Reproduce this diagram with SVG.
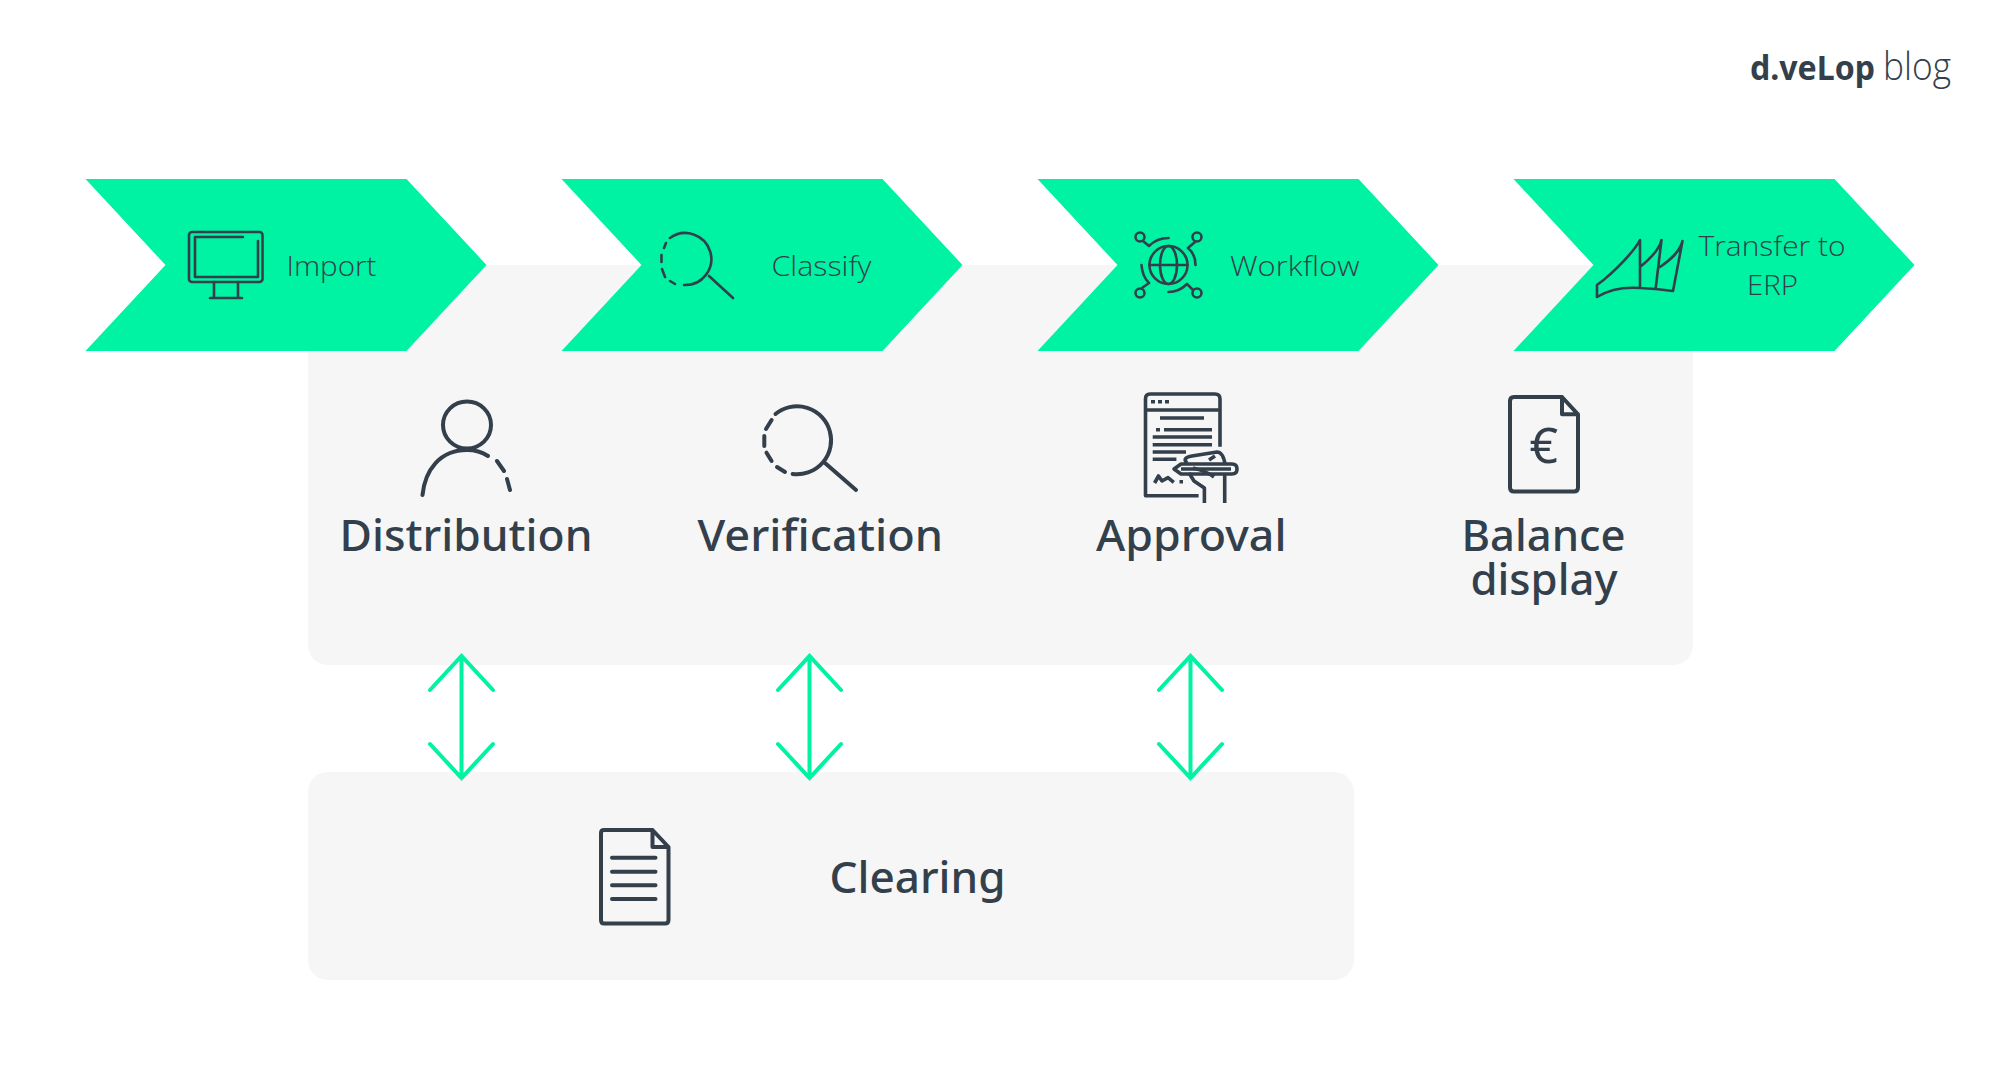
<svg xmlns="http://www.w3.org/2000/svg" width="2000" height="1069" viewBox="0 0 2000 1069">
<style>
.panel{fill:#f6f6f6}
.chev{fill:#00f2a3}
.ic{fill:none;stroke:#333f4b;stroke-linecap:round;stroke-linejoin:round;stroke-width:2.6}
.ic2{fill:none;stroke:#333f4b;stroke-linecap:round;stroke-linejoin:round;stroke-width:4}
.ic3{fill:none;stroke:#333f4b;stroke-linecap:butt;stroke-linejoin:round;stroke-width:3.600}
.lt{font-family:"Open Sans","Noto Sans",sans-serif;font-weight:300;font-size:28px;fill:#333f4b}
.md{font-family:"Noto Sans","Open Sans",sans-serif;font-weight:500;font-size:43px;fill:#333f4b}
.arr{fill:none;stroke:#00f2a3;stroke-width:4;stroke-linecap:round;stroke-linejoin:miter}
</style>
<rect width="2000" height="1069" fill="#ffffff"/>
<g id="panel-top"><rect class="panel" x="308" y="265" width="1385" height="400" rx="20"/></g>
<g id="panel-clearing-bg"><rect class="panel" x="308" y="772" width="1046" height="208" rx="20"/></g>

<g id="logo">
<text x="1750" y="80" textLength="125" lengthAdjust="spacingAndGlyphs" style="font-family:'Noto Sans',sans-serif;font-weight:700;font-size:34px;fill:#333f4b">d.veLop</text>
<text x="1883" y="80" textLength="68" lengthAdjust="spacingAndGlyphs" style="font-family:'Open Sans',sans-serif;font-weight:300;font-size:38px;fill:#333f4b">blog</text>
</g>

<g id="import">
<polygon class="chev" points="85.500,179 406.500,179 486.500,265 406.500,351 85.500,351 165.500,265"/>
<rect class="ic" x="189" y="232" width="73.500" height="50" rx="3"/>
<path class="ic" d="M243 237H195V277H258V241"/>
<path class="ic" d="M214 282V298M238 282V298M210 298H242"/>
<text class="lt" x="286.500" y="276" textLength="90" lengthAdjust="spacingAndGlyphs">Import</text>
</g>
<g id="classify">
<polygon class="chev" points="561.500,179 882.500,179 962.500,265 882.500,351 561.500,351 641.500,265"/>
<path class="ic" d="M670 238A26 26 0 1 1 684 285"/>
<path class="ic" d="M666 243L664 248M661.500 255V262M662 269L665 277M670 281L675 284"/>
<path class="ic" d="M709 276L733 298"/>
<text class="lt" x="771.500" y="276" textLength="100" lengthAdjust="spacingAndGlyphs">Classify</text>
</g>
<g id="workflow">
<polygon class="chev" points="1037.500,179 1358.500,179 1438.500,265 1358.500,351 1037.500,351 1117.500,265"/>
<ellipse class="ic" cx="1168.500" cy="265" rx="19" ry="19"/>
<ellipse class="ic" cx="1168.500" cy="265" rx="8.500" ry="19"/>
<path class="ic" d="M1149.500 265H1187.500"/>
<circle class="ic" cx="1140" cy="237" r="4.500"/>
<circle class="ic" cx="1197" cy="237" r="4.500"/>
<circle class="ic" cx="1140" cy="293" r="4.500"/>
<circle class="ic" cx="1197" cy="293" r="4.500"/>
<path class="ic" d="M1143 241L1149 246C1154 241 1161 238 1168.500 238M1195 242L1188 248C1193 252 1195.500 258 1195.500 265M1141.500 265C1142 272 1144 278 1149 283L1142 288M1168.500 292C1175 292 1182 289 1187 284L1193 290"/>
<text class="lt" x="1230" y="276" textLength="129.500" lengthAdjust="spacingAndGlyphs">Workflow</text>
</g>
<g id="transfer">
<polygon class="chev" points="1513.500,179 1834.500,179 1914.500,265 1834.500,351 1513.500,351 1593.500,265"/>
<path class="ic" d="M1597 297V285C1615 272 1635 250 1640 240V288C1626 287 1610 289 1597 297M1640 288L1655.600 289L1661.500 240C1659 250 1650 259 1640 267M1655.600 289L1673 291L1682.500 241C1680 252 1670 260 1660 267"/>
<text class="lt" x="1698.500" y="256" textLength="147" lengthAdjust="spacingAndGlyphs">Transfer to</text>
<text class="lt" x="1747" y="295" textLength="51" lengthAdjust="spacingAndGlyphs">ERP</text>
</g>

<g id="distribution">
<ellipse class="ic2" cx="467" cy="425" rx="24" ry="23.500"/>
<path class="ic2" d="M422.500 495C425 470 440 450 467 450C475 450 482 452 488 456M497 461L504 471M507 479L510 490"/>
<text class="md" x="339.500" y="551" textLength="253" lengthAdjust="spacingAndGlyphs">Distribution</text>
</g>
<g id="verification">
<path class="ic2" d="M775.500 414A34 34 0 1 1 792.600 474"/>
<path class="ic2" d="M785 472L777 467M771.600 461L766.500 452.700M764.300 446V436M766 429L771.600 420"/>
<path class="ic2" d="M825 463L856 490"/>
<text class="md" x="697.500" y="551" textLength="245.500" lengthAdjust="spacingAndGlyphs">Verification</text>
</g>
<g id="approval">
<path class="ic3" d="M1198.600 495.700H1145.500V399Q1145.500 394 1150 394H1215Q1220 394 1220 399V446.700M1145.500 410H1220"/>
<path class="ic3" d="M1151 401.700H1155M1158 401.700H1162M1165 401.700H1169M1160 418H1204M1156 429.700H1160M1164 429.700H1212M1152.700 437H1212M1152.700 444.700H1212M1152.700 452H1186M1152.700 459.300H1176.400"/>
<path class="ic3" d="M1174 469L1181 464H1232Q1237 464 1237 469Q1237 474 1232 474H1181ZM1181 469H1231"/>
<path class="ic3" d="M1187 463C1183 459 1186 457 1192 456L1217 452C1222 452 1224 458 1225 464M1224.700 474V503M1204.400 503V488L1194 481L1189 473M1193 468C1201 470 1208 472 1214 477M1209 460L1215 456"/>
<path class="ic3" d="M1154.600 483L1158.500 476L1162 481L1168 477.700L1173.800 482.300M1179.500 481.700H1183"/>
<text class="md" x="1096" y="551" textLength="190.500" lengthAdjust="spacingAndGlyphs">Approval</text>
</g>
<g id="balance">
<path class="ic2" d="M1562 397H1514Q1510 397 1510 401V487.500Q1510 491.500 1514 491.500H1574Q1578 491.500 1578 487.500V414.300L1562 397V414.300H1578"/>
<text x="1529.500" y="463" style="font-family:'Noto Sans',sans-serif;font-size:50px;fill:#333f4b">€</text>
<text class="md" x="1461.500" y="551" textLength="164" lengthAdjust="spacingAndGlyphs">Balance</text>
<text class="md" x="1470.500" y="595" textLength="147" lengthAdjust="spacingAndGlyphs">display</text>
</g>
<g id="clearing">
<path class="ic2" d="M652.500 830H604Q601 830 601 833V920Q601 923.500 604 923.500H665Q668.500 923.500 668.500 920V847L652.500 830V847H668.500"/>
<path class="ic2" d="M612 857.700H655.500M612 871.700H655.500M612 885.300H655.500M612 899H655.500"/>
<text class="md" x="829.500" y="893" textLength="176" lengthAdjust="spacingAndGlyphs">Clearing</text>
</g>

<g id="connectors">
<path class="arr" d="M461.500 656V778M430 690L461.500 656L493 690M430 744L461.500 778L493 744"/>
<path class="arr" d="M809.500 656V778M778 690L809.500 656L841 690M778 744L809.500 778L841 744"/>
<path class="arr" d="M1190.500 656V778M1159 690L1190.500 656L1222 690M1159 744L1190.500 778L1222 744"/>
</g>
</svg>
